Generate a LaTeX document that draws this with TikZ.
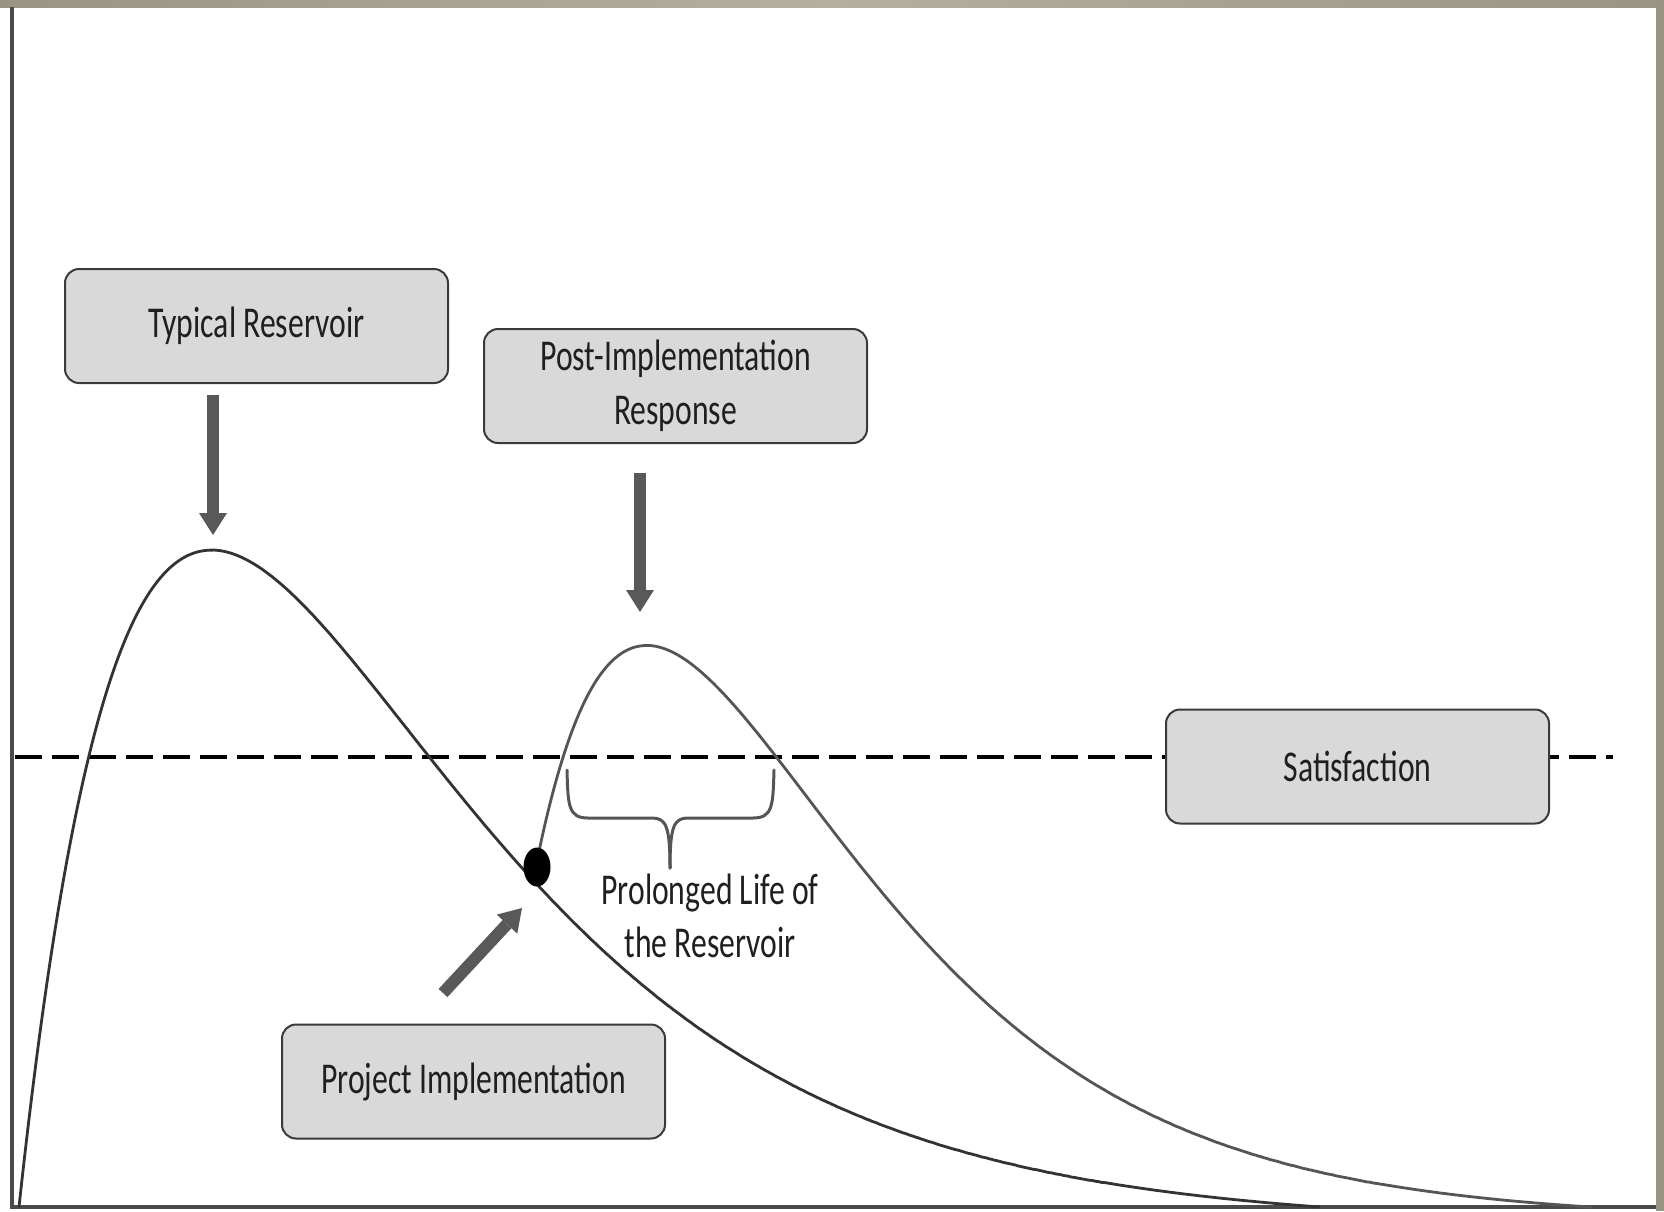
\documentclass[tikz,border=0pt]{standalone}
\usepackage{fontspec}
\setmainfont{Carlito}[FakeStretch=0.72]
\usetikzlibrary{arrows.meta,shapes.geometric}
\definecolor{boxfill}{HTML}{D9D9D9}
\definecolor{boxline}{HTML}{3A3A3A}
\definecolor{arrowgray}{HTML}{595959}
\definecolor{textdark}{HTML}{1F1F1F}
\definecolor{frameA}{HTML}{9A9582}
\definecolor{frameB}{HTML}{B4B09D}
\definecolor{curveA}{HTML}{333333}
\definecolor{curveB}{HTML}{555555}
\definecolor{axisgray}{HTML}{4A4A4A}
\tikzset{
  labelbox/.style={draw=boxline, line width=2pt, fill=boxfill, rounded corners=14pt,
    minimum width=383pt, minimum height=114pt, align=center, text=textdark,
    font=\fontsize{44}{54}\selectfont},
  blockarrow/.style={draw=arrowgray, line width=12pt,
    -{Triangle[length=22pt,width=28pt,line width=0pt]}},
  curveone/.style={draw=curveA, line width=2.8pt},
  curvetwo/.style={draw=curveB, line width=2.8pt},
  axisline/.style={draw=axisgray, line width=3.5pt},
  satline/.style={draw=black, line width=4pt, dash pattern=on 27pt off 10pt},
  bracestyle/.style={draw=curveB, line width=3pt, line join=round, line cap=round}
}
\begin{document}
\begin{tikzpicture}[x=1pt,y=-1pt]
\useasboundingbox (0,0) rectangle (1664,1211);
\fill[white] (0,0) rectangle (1664,1211);
% frame bars
\shade[left color=frameA, right color=frameA, middle color=frameB, shading angle=90] (0,0) rectangle (1664,7);
\fill[frameA] (1656,0) rectangle (1664,1211);

% axes
\coordinate (O) at (12,1207);
\coordinate (ytop) at (12,7);
\coordinate (xend) at (1656,1207);
\draw[axisline] (ytop) -- (O) -- (xend);

% satisfaction level
\coordinate (satL) at (15,757);
\coordinate (satR) at (1613,757);
\draw[satline] (satL) -- (satR);

% curves
\draw[curveone] plot[domain=19:1320, samples=500, smooth]
  (\x, {1207-659*(((\x-19)/193)*exp(1-(\x-19)/193)-0.00321*(\x-19)/193)});
\draw[curvetwo] plot[domain=536:1592, samples=400, smooth]
  (\x, {1207-563*(((\x-488)/159)*exp(1-(\x-488)/159)-0.002633*(\x-488)/159)});

% implementation point
\node[ellipse, fill=black, minimum width=27pt, minimum height=39pt, inner sep=0pt] (dot) at (537,867) {};

% boxes
\node[labelbox] (tr) at (256.5,326) {Typical Reservoir};
\node[labelbox] (pr) at (675.5,386) {Post-Implementation\\Response};
\node[labelbox] (sat) at (1357.5,766.5) {Satisfaction};
\node[labelbox] (pi) at (473.5,1081.5) {Project Implementation};

% block arrows
\coordinate (trtail) at (213,395);
\coordinate (trtip) at (213,535);
\coordinate (prtail) at (640,473);
\coordinate (prtip) at (640,612);
\coordinate (pitail) at (443,993);
\coordinate (pitip) at (522,908);
\draw[blockarrow] (trtail) -- (trtip);
\draw[blockarrow] (prtail) -- (prtip);
\draw[blockarrow] (pitail) -- (pitip);

% brace
\coordinate (brL) at (567,770);
\coordinate (brR) at (774,770);
\coordinate (brTip) at (670,868);
\draw[bracestyle] (brL) .. controls (568,805) and (568,818) .. (588,818) -- (652,818)
  .. controls (666,818) and (670,826) .. (brTip);
\draw[bracestyle] (brR) .. controls (773,805) and (773,818) .. (753,818) -- (688,818)
  .. controls (674,818) and (670,826) .. (brTip);

% label
\node[align=center, text=textdark, font=\fontsize{44}{53}\selectfont, anchor=center] (pl) at (710,916) {Prolonged Life of\\the Reservoir};
\end{tikzpicture}
\end{document}
